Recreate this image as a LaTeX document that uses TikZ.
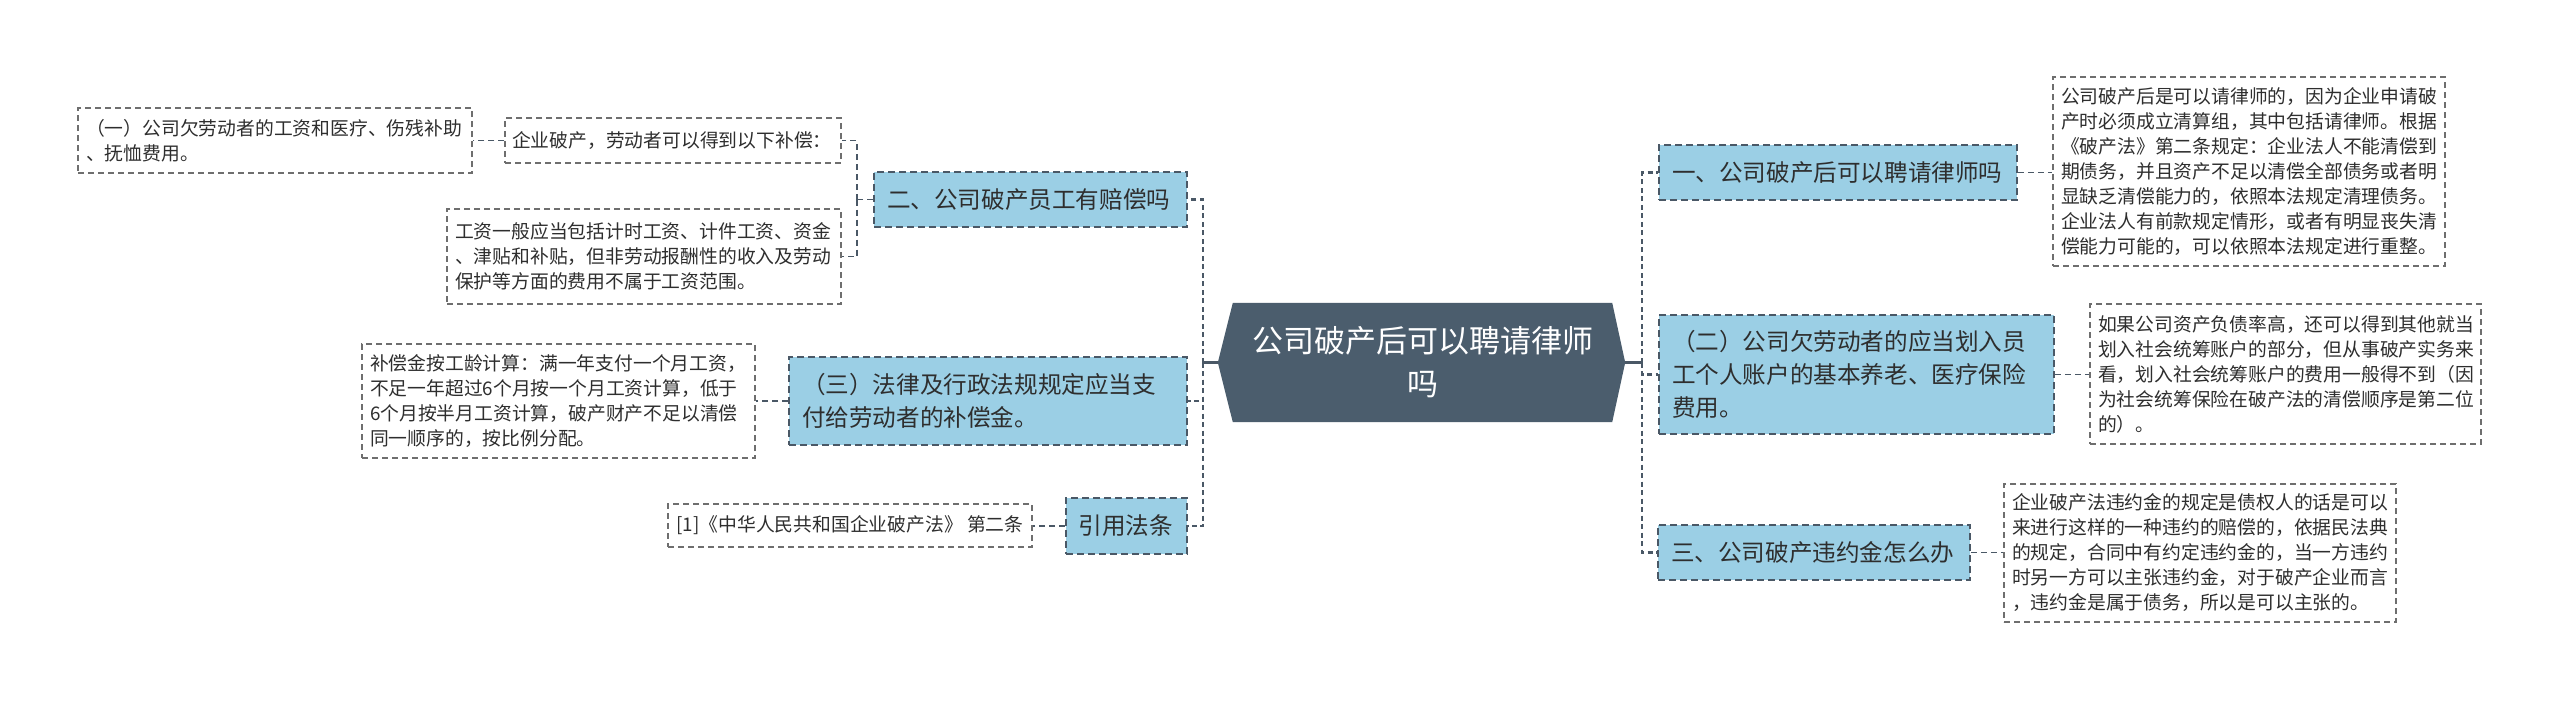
\documentclass[tikz,border=0pt]{standalone}
\usepackage{fontspec}
\newfontfamily\cjk{Noto Sans CJK SC}
\usetikzlibrary{calc,backgrounds}
\definecolor{lineC}{HTML}{4A5866}
\definecolor{grayC}{HTML}{6E6E6E}
\definecolor{blueF}{HTML}{9BCFE5}
\definecolor{rootF}{HTML}{4B5D6D}
\definecolor{txt}{HTML}{2E2E2E}
\tikzset{
  lvl/.style={draw=lineC, fill=blueF, dash pattern=on 7pt off 4pt, line width=1.6pt,
    font=\cjk\fontsize{23.6}{33}\selectfont, text=txt, inner xsep=13pt, inner ysep=0pt, align=left},
  detail/.style={draw=grayC, fill=white, dash pattern=on 6pt off 4pt, line width=1.3pt,
    font=\cjk\fontsize{18.8}{25}\selectfont, text=txt, inner xsep=8pt, inner ysep=0pt, align=left},
  rootbox/.style={font=\cjk\fontsize{31}{43}\selectfont, text=white, align=center,
    minimum width=379pt, minimum height=119pt, inner sep=0pt},
  conn/.style={draw=lineC, line width=1.8pt, dash pattern=on 6pt off 4pt},
  trunk/.style={draw=lineC, line width=2.6pt, dash pattern=on 5pt off 3.5pt},
  solidc/.style={draw=lineC, line width=2.2pt}
}
\begin{document}
\begin{tikzpicture}[x=1pt,y=-1pt]
\useasboundingbox (0,0) rectangle (2560,702);

% root
\node[rootbox] (root) at (1422.5,362.5) {公司破产后可以聘请律师\\吗};
\coordinate (rootE) at ($(root.east)+(13,0)$);
\coordinate (rootW) at ($(root.west)+(-15,0)$);
\begin{scope}[on background layer]
\fill[white] (0,0) rectangle (2560,702);
\fill[rootF] (root.north west) -- (root.north east) -- (rootE) -- (root.south east)
  -- (root.south west) -- (rootW) -- cycle;
\end{scope}

% right side
\node[lvl, text width=332pt, minimum height=55pt] (n1) at (1838,172.5) {一、公司破产后可以聘请律师吗};
\node[lvl, text width=369pt, minimum height=119pt] (n2) at (1856.5,374.5) {（二）公司欠劳动者的应当划入员\\工个人账户的基本养老、医疗保险\\费用。};
\node[lvl, text width=286pt, minimum height=55pt] (n3) at (1814,552.5) {三、公司破产违约金怎么办};

\node[detail, text width=376pt, minimum height=189pt] (d1) at (2249,171.5) {公司破产后是可以请律师的，因为企业申请破\\产时必须成立清算组，其中包括请律师。根据\\《破产法》第二条规定：企业法人不能清偿到\\期债务，并且资产不足以清偿全部债务或者明\\显缺乏清偿能力的，依照本法规定清理债务。\\企业法人有前款规定情形，或者有明显丧失清\\偿能力可能的，可以依照本法规定进行重整。};
\node[detail, text width=375pt, minimum height=140pt] (d2) at (2285.5,374) {如果公司资产负债率高，还可以得到其他就当\\划入社会统筹账户的部分，但从事破产实务来\\看，划入社会统筹账户的费用一般得不到（因\\为社会统筹保险在破产法的清偿顺序是第二位\\的）。};
\node[detail, text width=376pt, minimum height=138pt] (d3) at (2200,553) {企业破产法违约金的规定是债权人的话是可以\\来进行这样的一种违约的赔偿的，依据民法典\\的规定，合同中有约定违约金的，当一方违约\\时另一方可以主张违约金，对于破产企业而言\\，违约金是属于债务，所以是可以主张的。};

% left side
\node[lvl, text width=287pt, minimum height=55pt] (L2) at (1030.5,199.5) {二、公司破产员工有赔偿吗};
\node[lvl, text width=372pt, minimum height=88pt] (L3) at (988,401) {（三）法律及行政法规规定应当支\\付给劳动者的补偿金。};
\node[lvl, text width=96pt, inner xsep=12.5pt, minimum height=56pt] (L4) at (1126.5,526) {引用法条};

\node[detail, text width=378pt, minimum height=65pt] (a1) at (275,140.5) {（一）公司欠劳动者的工资和医疗、伤残补助\\、抚恤费用。};
\node[detail, text width=322pt, inner xsep=7pt, minimum height=45pt] (a2) at (673,140.5) {企业破产，劳动者可以得到以下补偿：};
\node[detail, text width=378pt, minimum height=95pt] (a3) at (644,256.5) {工资一般应当包括计时工资、计件工资、资金\\、津贴和补贴，但非劳动报酬性的收入及劳动\\保护等方面的费用不属于工资范围。};
\node[detail, text width=377pt, minimum height=114pt] (b1) at (558.5,401) {补偿金按工龄计算：满一年支付一个月工资，\\不足一年超过6个月按一个月工资计算，低于\\6个月按半月工资计算，破产财产不足以清偿\\同一顺序的，按比例分配。};
\node[detail, minimum width=364pt, minimum height=43pt] (c1) at (850,525.5) {[1]《中华人民共和国企业破产法》 第二条};

% junctions
\coordinate (rj) at (1642,362.5);
\coordinate (lj) at (1203,362.5);
\coordinate (sj) at (857,199.5);

% connectors right
\draw[solidc] (rootE) -- (rj);
\draw[trunk] (rj) |- (n1.west);
\draw[trunk] (rj) |- (n2.west);
\draw[trunk] (rj) |- (n3.west);
\draw[conn] (n1.east) -- (n1.east -| d1.west);
\draw[conn] (n2.east) -- (n2.east -| d2.west);
\draw[conn] (n3.east) -- (n3.east -| d3.west);

% connectors left
\draw[solidc] (rootW) -- (lj);
\draw[trunk] (lj) |- (L2.east);
\draw[trunk] (lj) |- (L3.east);
\draw[trunk] (lj) |- (L4.east);
\draw[conn] (L2.west) -- (sj);
\draw[conn] (sj) |- (a2.east);
\draw[conn] (sj) |- (a3.east);
\draw[conn] (a2.west) -- (a1.east);
\draw[conn] (L3.west) -- (L3.west -| b1.east);
\draw[conn] (L4.west) -- (L4.west -| c1.east);
\end{tikzpicture}
\end{document}
